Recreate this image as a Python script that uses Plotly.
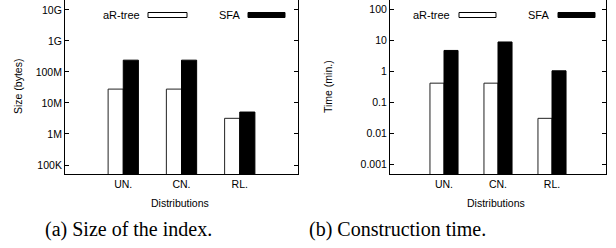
import plotly.graph_objects as go

W, H = 616, 248

categories = ["UN.", "CN.", "RL."]
size_artree = [2.8e7, 2.8e7, 3.2e6]
size_sfa = [2.4e8, 2.4e8, 5.1e6]
time_artree = [0.42, 0.42, 0.031]
time_sfa = [4.75, 8.9, 1.05]
size_tickvals = [1e5, 1e6, 1e7, 1e8, 1e9, 1e10]
size_ticktext = ["100K", "1M", "10M", "100M", "1G", "10G"]
time_tickvals = [0.001, 0.01, 0.1, 1, 10, 100]
time_ticktext = ["0.001", "0.01", "0.1", "1", "10", "100"]
series_names = ["aR-tree", "SFA"]
captions = ["(a) Size of the index.", "(b) Construction time."]
xtitle = "Distributions"
ytitles = ["Size (bytes)", "Time (min.)"]

def px(x):
    return x / W

def py(y):
    return 1 - y / H

FONT = "Liberation Sans, Arial, sans-serif"
SERIF = "Liberation Serif, Times New Roman, serif"

fig = go.Figure()
fig.add_bar(x=categories, y=size_artree, name=series_names[0], xaxis="x", yaxis="y",
            marker=dict(color="white", line=dict(color="#222", width=1)), showlegend=False)
fig.add_bar(x=categories, y=size_sfa, name=series_names[1], xaxis="x", yaxis="y",
            marker=dict(color="black", line=dict(color="black", width=1)), showlegend=False)
fig.add_bar(x=categories, y=time_artree, name=series_names[0], xaxis="x2", yaxis="y2",
            marker=dict(color="white", line=dict(color="#222", width=1)), showlegend=False)
fig.add_bar(x=categories, y=time_sfa, name=series_names[1], xaxis="x2", yaxis="y2",
            marker=dict(color="black", line=dict(color="black", width=1)), showlegend=False)

ydom = [py(174), 1.0]
common_x = dict(type="category", range=[-1, 3], showline=True, linecolor="black", linewidth=1,
                mirror=False, ticks="inside", ticklen=4, tickcolor="black", showgrid=False,
                tickfont=dict(family=FONT, size=10.5, color="black"), zeroline=False)
common_y = dict(type="log", showline=True, linecolor="black", linewidth=1, mirror="ticks",
                ticks="inside", ticklen=4, tickcolor="black", showgrid=False,
                tickfont=dict(family=FONT, size=10.5, color="black"), zeroline=False,
                domain=ydom)

fig.update_layout(
    width=W, height=H, margin=dict(l=0, r=0, t=0, b=0),
    paper_bgcolor="white", plot_bgcolor="white",
    barmode="group", bargap=0.48, bargroupgap=0,
    xaxis={**common_x, "domain": [px(65), px(298)], "anchor": "y"},
    yaxis={**common_y, "range": [4.71, 10.32], "tickvals": size_tickvals,
           "ticktext": size_ticktext, "anchor": "x"},
    xaxis2={**common_x, "domain": [px(390), px(606)], "anchor": "y2"},
    yaxis2={**common_y, "range": [-3.30, 2.30], "tickvals": time_tickvals,
            "ticktext": time_ticktext, "anchor": "x2"},
)

ann = []
shapes = []
for cx in [180, 496]:
    ann.append(dict(x=px(cx), y=py(202.5), xref="paper", yref="paper", text=xtitle,
                    showarrow=False, font=dict(family=FONT, size=10.5, color="black"),
                    xanchor="center", yanchor="middle"))
for cx, t in zip([18, 328], ytitles):
    ann.append(dict(x=px(cx), y=py(87), xref="paper", yref="paper", text=t, textangle=-90,
                    showarrow=False, font=dict(family=FONT, size=10.5, color="black"),
                    xanchor="center", yanchor="middle"))
for cx, t in zip([128.5, 397.5], captions):
    ann.append(dict(x=px(cx), y=py(229), xref="paper", yref="paper", text=t,
                    showarrow=False, font=dict(family=SERIF, size=20, color="black"),
                    xanchor="center", yanchor="middle"))
legend_specs = [
    (142, 148, 187, "white", series_names[0]),
    (242, 248, 285, "black", series_names[1]),
    (452, 459, 496, "white", series_names[0]),
    (551, 558, 595, "black", series_names[1]),
]
for tx, x0, x1, col, name in legend_specs:
    ann.append(dict(x=px(tx), y=py(15), xref="paper", yref="paper", text=name,
                    showarrow=False, font=dict(family=FONT, size=11, color="black"),
                    xanchor="right", yanchor="middle"))
    shapes.append(dict(type="rect", xref="paper", yref="paper", x0=px(x0), x1=px(x1),
                       y0=py(17.5), y1=py(12.5), fillcolor=col,
                       line=dict(color="black", width=1)))

fig.update_layout(annotations=ann, shapes=shapes)
fig.write_html("out.html", config={"displayModeBar": False},
               post_script="document.body.style.margin='0';document.body.style.padding='0';")
